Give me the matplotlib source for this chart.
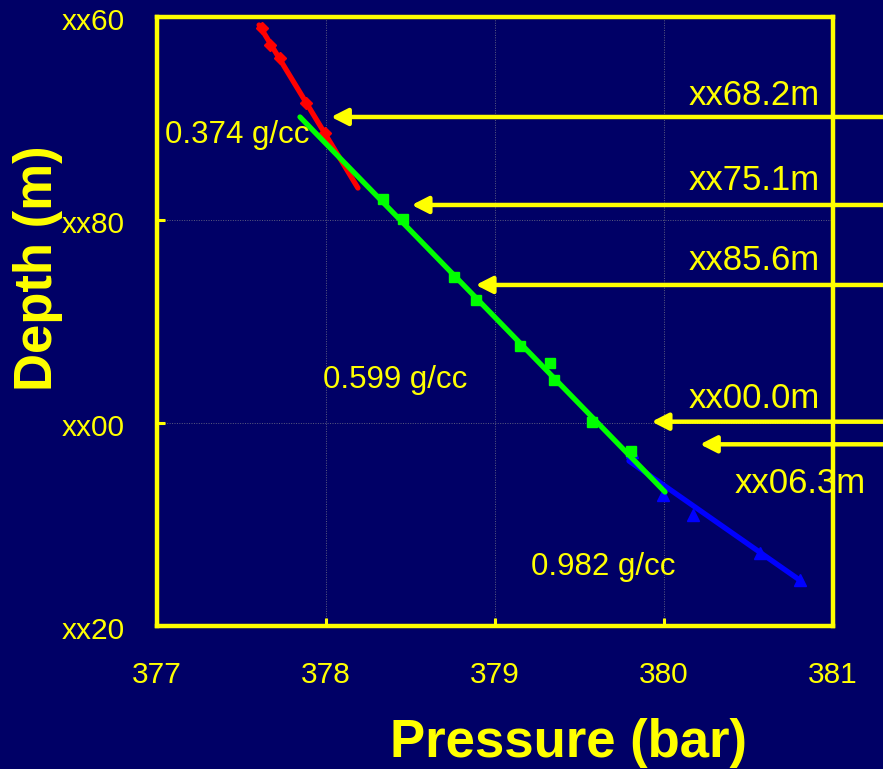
import matplotlib
matplotlib.use("Agg")
import matplotlib.pyplot as plt
import matplotlib.transforms as mtransforms
import numpy as np

plt.rcParams['font.family'] = ['Liberation Sans', 'DejaVu Sans']

# ---- data (pressure in bar, depth in m: 60..120 -> xx60..xx20) ----
red_p = [377.621, 377.669, 377.728, 377.882, 377.994]
red_d = [61.08, 62.76, 64.04, 68.47, 71.43]
red_fit_p = [377.604, 378.189]
red_fit_d = [60.79, 76.85]

green_p = [378.337, 378.456, 378.757, 378.888, 379.148, 379.325, 379.349, 379.574, 379.805]
green_d = [77.93, 79.90, 85.62, 87.88, 92.41, 94.09, 95.76, 99.90, 102.76]
green_fit_p = [377.846, 380.006]
green_fit_d = [69.85, 106.80]

blue_p = [379.811, 379.994, 380.172, 380.568, 380.805]
blue_d = [102.86, 107.09, 109.06, 112.81, 115.47]
blue_fit_p = [379.793, 380.811]
blue_fit_d = [103.74, 115.57]

density_labels = ['0.374 g/cc', '0.599 g/cc', '0.982 g/cc']
arrow_labels = ['xx68.2m', 'xx75.1m', 'xx85.6m', 'xx00.0m', 'xx06.3m']
arrow_tip_p = [378.03, 378.507, 378.886, 379.927, 380.213]
arrow_d = [69.85, 78.52, 86.40, 99.87, 102.10]

x_ticks = [377, 378, 379, 380, 381]
x_ticklabels = ['377', '378', '379', '380', '381']
y_ticks = [60, 80, 100, 120]
y_ticklabels = ['xx60', 'xx80', 'xx00', 'xx20']

BG = '#000066'
YEL = '#FFFF00'

fig = plt.figure(figsize=(8.83, 7.69), dpi=100, facecolor=BG)
ax = fig.add_axes([157/883, 1-626/769, 676/883, 609/769], facecolor=BG)

ax.set_xlim(377, 381)
ax.set_ylim(120, 60)

ax.set_xticks(x_ticks)
ax.set_xticklabels(x_ticklabels)
ax.set_yticks(y_ticks)
ax.set_yticklabels(y_ticklabels)
ax.grid(True, color='#5c5c80', lw=0.7, ls=(0, (1, 1.5)))
ax.set_axisbelow(True)

for s in ax.spines.values():
    s.set_color(YEL)
    s.set_linewidth(3.2)

ax.tick_params(axis='both', direction='in', colors=YEL, length=6, width=2.2,
               labelsize=21.5, labelcolor=YEL)
ax.tick_params(axis='x', pad=25)
ax.tick_params(axis='y', pad=23)
shift = mtransforms.ScaledTranslation(0, -5/100, fig.dpi_scale_trans)
for lab in ax.get_yticklabels():
    lab.set_verticalalignment('center')
    lab.set_transform(lab.get_transform() + shift)

# series
ax.plot(blue_fit_p, blue_fit_d, color='#0000FF', lw=3.8, solid_capstyle='round', zorder=3)
ax.plot(blue_p, blue_d, ls='none', marker='^', ms=8.5, color='#0000FF', zorder=3)
ax.plot(red_fit_p, red_fit_d, color='#FF0000', lw=3.8, solid_capstyle='round', zorder=4)
ax.plot(red_p, red_d, ls='none', marker='D', ms=6.5, color='#FF0000', zorder=4)
ax.plot(green_fit_p, green_fit_d, color='#00FF00', lw=3.8, solid_capstyle='round', zorder=5)
ax.plot(green_p, green_d, ls='none', marker='s', ms=7.5, color='#00FF00', zorder=5)

# density labels
dens_pos = [(377.047, 72.41), (377.982, 96.55), (379.213, 114.98)]
for lab, (px, py) in zip(density_labels, dens_pos):
    ax.text(px, py, lab, color=YEL, fontsize=22.5, ha='left', va='baseline', zorder=6)

# arrows
for tip, d in zip(arrow_tip_p, arrow_d):
    ax.annotate('', xy=(tip, d), xytext=(381.5, d), xycoords='data',
                arrowprops=dict(arrowstyle='-|>,head_length=0.55,head_width=0.28',
                                mutation_scale=18, color=YEL, lw=3.2,
                                shrinkA=0, shrinkB=0),
                annotation_clip=False, zorder=7)

lab_pos = [(380.923, 68.67), (380.923, 77.04), (380.923, 84.93), (380.923, 98.52), (381.195, 106.90)]
for lab, (px, py) in zip(arrow_labels, lab_pos):
    ax.text(px, py, lab, color=YEL, fontsize=25, ha='right', va='baseline',
            clip_on=False, zorder=7)

# axis titles
fig.text(569/883, 1-757/769, 'Pressure (bar)', color=YEL, fontsize=38,
         fontweight='bold', ha='center', va='baseline')
fig.text(38.5/883, 1-268/769, 'Depth (m)', color=YEL, fontsize=38,
         fontweight='bold', ha='center', va='center', rotation=90)

fig.savefig('out.png', dpi=100, facecolor=BG)
